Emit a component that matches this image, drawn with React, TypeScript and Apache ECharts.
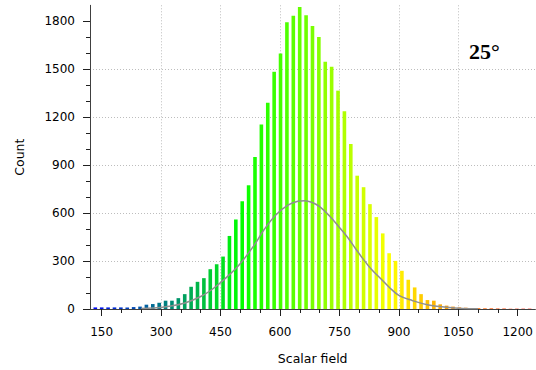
import React, { useEffect, useRef } from 'react';
import * as echarts from 'echarts';

// Histogram bins (uniform width), counts
const binStart = 133.9;
const binWidth = 16.12;
const counts = [
  10, 10, 10, 10, 10, 10, 12, 15, 27, 31,
  39, 52, 52, 68, 93, 139, 170, 193, 249, 280,
  328, 457, 560, 674, 774, 951, 1154, 1291, 1484, 1599,
  1794, 1835, 1889, 1837, 1771, 1702, 1547, 1515, 1366, 1237,
  1032, 834, 762, 656, 575, 473, 349, 301, 239, 183,
  135, 93, 56, 52, 29, 21, 15, 10, 8, 6,
  5, 4, 4, 3, 3, 2, 2, 2, 2,
];

// Fitted curve (grey)
const curveX = [250, 280, 320, 360, 400, 430, 465, 500, 535, 560, 590, 620, 645, 662, 680, 700, 725, 750, 770, 790, 810, 830, 850, 875, 900, 935, 975, 1020, 1060, 1100];
const curveY = [3, 6, 17, 38, 78, 125, 198, 285, 400, 497, 590, 650, 674, 678, 668, 640, 582, 510, 450, 380, 312, 250, 200, 138, 85, 52, 25, 11, 3, 1];

const xMajorTicks = [150, 300, 450, 600, 750, 900, 1050, 1200];
const xMinorTicks = [200, 250, 350, 400, 500, 550, 650, 700, 800, 850, 950, 1000, 1100, 1150];
const yMajorTicks = [0, 300, 600, 900, 1200, 1500, 1800];
const yMinorTicks = [100, 200, 400, 500, 700, 800, 1000, 1100, 1300, 1400, 1600, 1700];

const xName = 'Scalar field';
const yName = 'Count';
const annotation = '25°';

const X_MIN = 120.5;
const X_MAX = 1244.6;
const Y_MIN = 0;
const Y_MAX = 1900;

const FONT = 'DejaVu Sans';

export default function App() {
  const ref = useRef<HTMLDivElement>(null);

  useEffect(() => {
    if (!ref.current) return;
    const chart = echarts.init(ref.current, undefined, { renderer: 'svg' });

    const tickLine = { color: '#202020', width: 1 };
    const labelStyle = {
      fontFamily: FONT,
      fontSize: 12,
      color: '#000',
      formatter: (v: number) => String(v),
    };

    chart.setOption({
      animation: false,
      backgroundColor: '#ffffff',
      grid: { left: 90, right: 0, top: 5.3, bottom: 60 },
      visualMap: {
        type: 'continuous',
        show: false,
        seriesIndex: 0,
        dimension: 0,
        min: 120,
        max: 1260,
        inRange: { color: ['#0000ff', '#00ff00', '#ffff00', '#ff0000'] },
      },
      xAxis: [
        {
          type: 'value',
          min: X_MIN,
          max: X_MAX,
          position: 'bottom',
          name: xName,
          nameLocation: 'middle',
          nameGap: 43,
          nameTextStyle: { fontFamily: FONT, fontSize: 12.5, color: '#000' },
          axisLine: { show: true, onZero: false, lineStyle: { color: '#404040', width: 1 } },
          axisTick: { show: true, length: 7, customValues: xMajorTicks, lineStyle: tickLine },
          axisLabel: { customValues: xMajorTicks, margin: 17, ...labelStyle },
          splitLine: {
            show: true,
            showMinLine: false,
            showMaxLine: false,
            lineStyle: { color: '#bdbdbd', width: 1, type: [1, 2] },
          },
          minorTick: { show: false },
        },
        {
          type: 'value',
          min: X_MIN,
          max: X_MAX,
          position: 'bottom',
          offset: 0,
          axisLine: { show: false },
          axisTick: { show: true, length: 4, customValues: xMinorTicks, lineStyle: tickLine },
          axisLabel: { show: false },
          splitLine: { show: false },
        },
      ],
      yAxis: [
        {
          type: 'value',
          min: Y_MIN,
          max: Y_MAX,
          position: 'left',
          name: yName,
          nameLocation: 'middle',
          nameGap: 64,
          nameRotate: 90,
          nameTextStyle: { fontFamily: FONT, fontSize: 12.5, color: '#000' },
          axisLine: { show: true, onZero: false, lineStyle: { color: '#404040', width: 1 } },
          axisTick: { show: true, length: 7, customValues: yMajorTicks, lineStyle: tickLine },
          axisLabel: { customValues: yMajorTicks, margin: 15, ...labelStyle },
          splitLine: {
            show: true,
            showMinLine: false,
            showMaxLine: false,
            lineStyle: { color: '#bdbdbd', width: 1, type: [1, 2] },
          },
          minorTick: { show: false },
        },
        {
          type: 'value',
          min: Y_MIN,
          max: Y_MAX,
          position: 'left',
          offset: 0,
          axisLine: { show: false },
          axisTick: { show: true, length: 4, customValues: yMinorTicks, lineStyle: tickLine },
          axisLabel: { show: false },
          splitLine: { show: false },
        },
      ],
      series: [
        {
          type: 'bar',
          xAxisIndex: 0,
          yAxisIndex: 0,
          barWidth: 3.6,
          data: counts.map((c, i) => [binStart + i * binWidth, c]),
        },
        {
          type: 'line',
          xAxisIndex: 0,
          yAxisIndex: 0,
          smooth: 0.4,
          symbol: 'none',
          z: 3,
          lineStyle: { color: '#8f8f8f', width: 1.5 },
          data: curveX.map((x, i) => [x, curveY[i]]),
        },
      ],
      graphic: [
        {
          type: 'text',
          x: 469,
          y: 51,
          style: {
            text: annotation,
            font: 'bold 22px "Liberation Serif"',
            fill: '#000',
            align: 'left',
            verticalAlign: 'middle',
          },
        },
      ],
    });

    return () => chart.dispose();
  }, []);

  return (
    <div
      ref={ref}
      style={{ position: 'fixed', left: 0, top: 0, width: 536, height: 370, background: '#fff' }}
    />
  );
}
